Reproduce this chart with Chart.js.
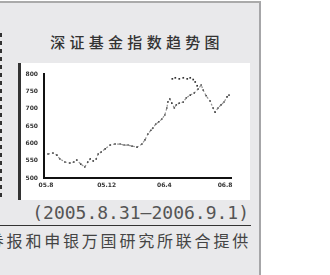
<!DOCTYPE html>
<html>
<head>
<meta charset="utf-8">
<script src="https://cdn.jsdelivr.net/npm/chart.js@4/dist/chart.umd.min.js"></script>
<style>
  html, body { margin: 0; padding: 0; background: #fff; width: 330px; height: 275px; overflow: hidden; }
  #panel { position: absolute; left: 0; top: 1px; width: 261px; height: 274px; background: #e9e9eb;
    border-top: 2px solid #aaa; border-right: 2px solid #a6a6a8; box-sizing: border-box; overflow: hidden; }
  #dots { position: absolute; left: 0; top: 30px; width: 2px; height: 168px;
    background: repeating-linear-gradient(to bottom, #333 0 4px, transparent 4px 8px); }
  #title { position: absolute; left: 0; width: 274px; top: 28px; text-align: center;
    font: 500 15px "Noto Sans CJK SC", sans-serif; letter-spacing: 4.3px; color: #333; }
  #box { position: absolute; left: 18px; top: 60px; width: 232px; height: 137px; background: #fff; }
  #bar { position: absolute; left: 18px; top: 60px; width: 3px; height: 137px; background: #333; }
  #chartwrap { position: absolute; left: 22px; top: 60px; width: 228px; height: 137px; }
  #period { position: absolute; right: 10px; top: 199px; font: 18px "DejaVu Sans Mono", monospace; color: #555; white-space: nowrap; }
  #rule { position: absolute; left: 0; top: 222px; width: 251px; height: 1px; background: #333; }
  #source { position: absolute; right: 8px; top: 225px; font: 16px "Noto Sans CJK SC", sans-serif; letter-spacing: 2.8px; color: #444; white-space: nowrap; }
</style>
</head>
<body>
<div id="panel">
  <div id="dots"></div>
  <div id="title">深证基金指数趋势图</div>
  <div id="box"></div>
  <div id="bar"></div>
  <div id="chartwrap"><canvas id="c" width="228" height="137"></canvas></div>
  <div id="period">(2005.8.31—2006.9.1)</div>
  <div id="rule"></div>
  <div id="source">证券报和申银万国研究所联合提供</div>
</div>
<script>
// days since 2005-08-31 and index values
const days = [2, 12, 20, 26, 36, 46, 54, 60, 68, 76, 82, 87, 93, 99, 103, 109, 117, 127, 137, 147, 155, 163, 171, 181,
  191, 197, 203, 209, 213, 219, 225, 231, 237, 241, 243, 247, 251, 256, 260, 266, 274, 280, 288, 296, 304, 310,
  314, 320, 328, 334, 338, 344, 350, 356, 362, 366];
const values = [569, 572, 566, 555, 546, 543, 546, 552, 540, 532, 546, 555, 549, 555, 569, 575, 584, 595, 598, 598, 595, 595, 592, 589,
  598, 610, 627, 638, 644, 656, 662, 670, 682, 702, 719, 728, 716, 702, 711, 716, 719, 731, 739, 745, 757, 768,
  754, 737, 722, 702, 690, 702, 711, 719, 734, 739];
// the flat run of highs near the top
const peakDays = [252, 258, 266, 274, 282, 288, 294, 298, 302];
const peakValues = [786, 789, 786, 789, 786, 789, 784, 777, 766];

const yTicks = [500, 550, 600, 650, 700, 750, 800];
const xTickDays = [-2, 120, 236, 358];
const xTickLabels = ["05.8", "05.12", "06.4", "06.8"];

const pts = (xs, ys) => xs.map((x, i) => ({ x: x, y: ys[i] }));

new Chart(document.getElementById("c"), {
  type: "line",
  data: {
    datasets: [
      {
        data: pts(days, values),
        borderColor: "rgba(110,110,110,0.75)",
        borderWidth: 1.2,
        borderDash: [2, 2],
        pointRadius: 1.1,
        pointStyle: "rect",
        pointBackgroundColor: "#444",
        pointBorderWidth: 0,
        tension: 0,
      },
      {
        data: pts(peakDays, peakValues),
        showLine: false,
        pointRadius: 1.2,
        pointStyle: "rect",
        pointBackgroundColor: "#333",
        pointBorderWidth: 0,
      },
    ],
  },
  options: {
    responsive: false,
    animation: false,
    events: [],
    layout: { padding: { top: 11, right: 19, left: 0, bottom: 0 } },
    plugins: { legend: { display: false }, tooltip: { enabled: false } },
    scales: {
      x: {
        type: "linear",
        min: -6,
        max: 370,
        afterBuildTicks: (s) => { s.ticks = xTickDays.map((v) => ({ value: v })); },
        afterFit: (s) => { s.height = 22; },
        grid: { display: false, drawTicks: false },
        border: { color: "#111", width: 2 },
        ticks: {
          padding: 4,
          maxRotation: 0,
          autoSkip: false,
          color: "#333",
          font: { size: 6, family: "DejaVu Sans", weight: "bold" },
          callback: (v) => { const i = xTickDays.indexOf(v); return i >= 0 ? xTickLabels[i] : ""; },
        },
      },
      y: {
        min: 500,
        max: 800,
        afterBuildTicks: (s) => { s.ticks = yTicks.map((v) => ({ value: v })); },
        afterFit: (s) => { s.width = 22; },
        grid: { display: false, drawTicks: false },
        border: { color: "#111", width: 2 },
        ticks: {
          padding: 6,
          color: "#333",
          font: { size: 6, family: "DejaVu Sans", weight: "bold" },
        },
      },
    },
  },
});
</script>
</body>
</html>
